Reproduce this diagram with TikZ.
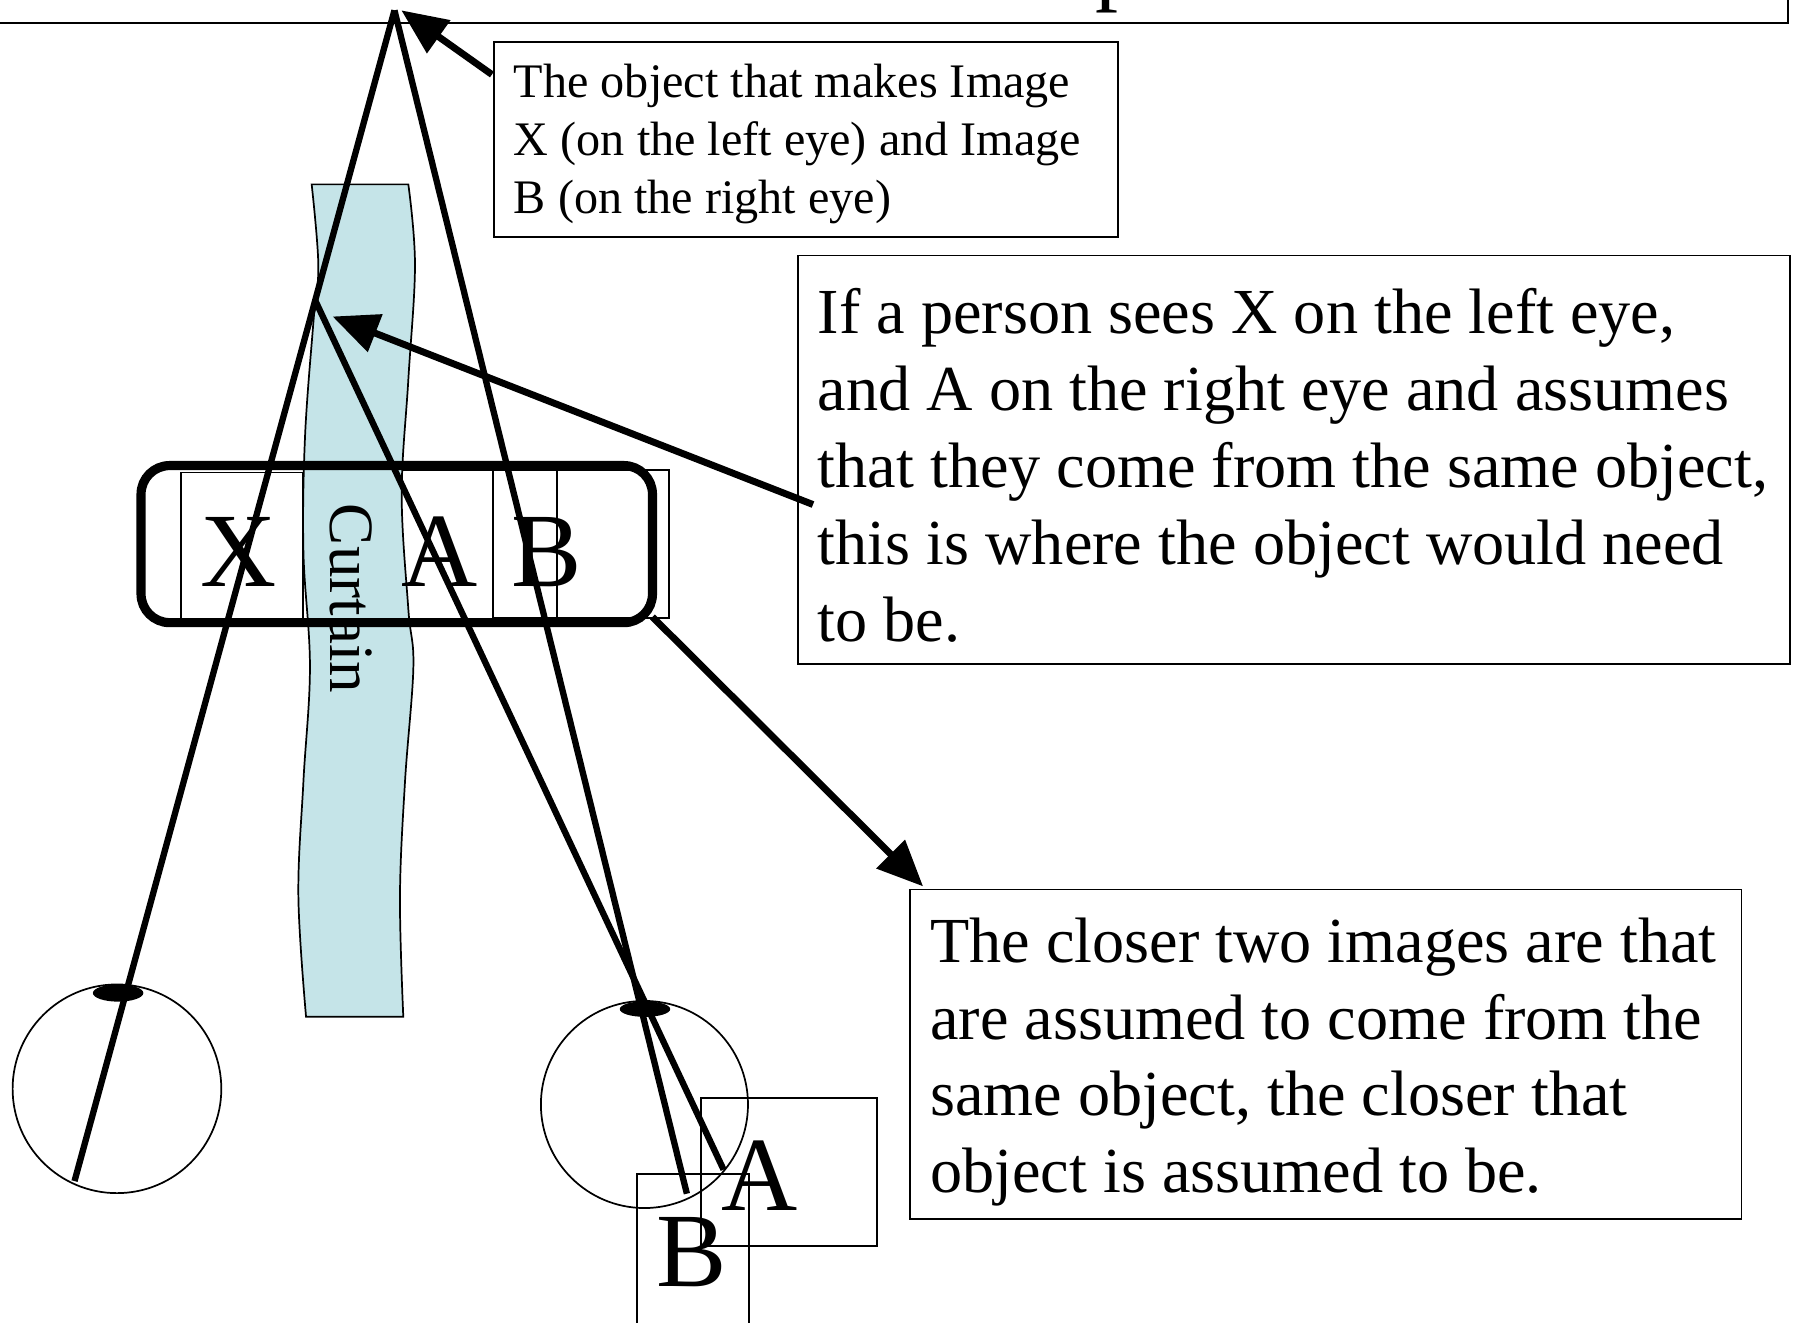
\documentclass[tikz,border=0pt]{standalone}
\usepackage{fontspec}
\setmainfont{Liberation Serif}
\usetikzlibrary{arrows.meta}
\definecolor{curtainblue}{RGB}{197,228,232}
\begin{document}
\begin{tikzpicture}[x=1pt,y=-1pt,
  thinbox/.style={draw, line width=1.5pt},
  ray/.style={line width=5.5pt},
  pointer/.style={line width=6pt, -{Triangle[length=40pt,width=34pt]}},
  notebox/.style={draw, line width=1.5pt, anchor=north west, inner sep=0pt},
  notetext/.style={anchor=west, align=left, inner sep=0pt},
  bigletter/.style={font=\fontsize{92}{110}\selectfont, inner sep=0pt, anchor=base},
  eye/.style={draw, line width=1.5pt},
]
\useasboundingbox (0,0) rectangle (1568,1153);

% title box fragment
\draw[line width=1.5pt] (-10,20) -- (1559,20) -- (1559,-10);
\node[font=\fontsize{80}{96}\selectfont, anchor=base west, inner sep=0pt] (titlep) at (955,-6) {p};

% thin letter boxes (under curtain)
\draw[thinbox] (158,412) rectangle (264,541);
\draw[thinbox] (300,410) rectangle (485.6,540);
\draw[thinbox] (430,410) rectangle (583.5,539);

% curtain
\draw[fill=curtainblue, line width=1.5pt]
  plot[smooth, tension=0.6] coordinates {(271.8,160.8) (277.6,230.9) (273.3,281) (266,381) (264.6,481.2) (270.3,581.4) (264.6,681.5) (260.2,781.6) (266.9,886.7)}
  -- plot[smooth, tension=0.6] coordinates {(351.7,886.7) (348.8,781.6) (353.2,681.5) (360.5,581.4) (356.1,531.3) (350.3,431.2) (356.1,331) (361.9,230.9) (356.1,160.8)}
  -- cycle;
\node[font=\fontsize{55}{66}\selectfont, rotate=-90, inner sep=0pt] (curtainlabel) at (306,522) {Curtain};

% letters
\node[bigletter] (letX) at (208,511.6) {X};
\node[bigletter] (letA) at (383.5,511.6) {A};
\node[bigletter] (letB) at (477,511.6) {B};

% rounded frame
\draw[line width=8pt, rounded corners=25pt] (123,406) rectangle (569,543);
\coordinate (framecorner) at (569,538);

% eyes
\draw[eye] (102,949.5) circle [radius=91pt];
\draw[eye] (562,963.2) circle [radius=90.3pt];
\fill (103,866) ellipse [x radius=22pt, y radius=7.5pt];
\fill (562.5,880) ellipse [x radius=22pt, y radius=6.8pt];

% bottom image boxes
\draw[thinbox] (611.3,957.3) rectangle (765,1086.6);
\draw[thinbox] (555.2,1023.8) rectangle (653.2,1170);
\node[bigletter] (imgA) at (662,1055.8) {A};
\node[bigletter] (imgB) at (603,1122) {B};

% rays
\coordinate (apex) at (344,9);
\coordinate (conv) at (274.9,262);
\coordinate (leftend) at (65,1030);
\coordinate (rightB) at (599,1041);
\coordinate (rightA) at (631,1020);
\draw[ray] (apex) -- (leftend);
\draw[ray] (apex) -- (rightB);
\draw[ray] (conv) -- (rightA);

% notes
\node[notebox, minimum width=544pt, minimum height=170pt] (note1) at (430,36) {};
\node[notetext, font=\fontsize{42}{50.5}\selectfont] (note1text) at ([xshift=18pt,yshift=-4pt]note1.west)
  {The object that makes Image\\X (on the left eye) and Image\\B (on the right eye)};
\node[notebox, minimum width=865pt, minimum height=356pt] (note2) at (695,222) {};
\node[notetext, font=\fontsize{56}{67}\selectfont] (note2text) at ([xshift=18pt,yshift=-5pt]note2.west)
  {If a person sees X on the left eye,\\and A on the right eye and assumes\\that they come from the same object,\\this is where the object would need\\to be.};
\node[notebox, minimum width=725pt, minimum height=287pt] (note3) at (793,775) {};
\node[notetext, font=\fontsize{56}{67}\selectfont] (note3text) at ([xshift=18pt,yshift=-7pt]note3.west)
  {The closer two images are that\\are assumed to come from the\\same object, the closer that\\object is assumed to be.};

% pointers
\coordinate (p1start) at (429,65);
\coordinate (p1tip) at (350,9);
\coordinate (p2start) at (709,440);
\coordinate (p2tip) at (290,276);
\coordinate (p3tip) at (805,773);
\draw[pointer] (p1start) -- (p1tip);
\draw[pointer] (p2start) -- (p2tip);
\draw[pointer] (framecorner) -- (p3tip);
\end{tikzpicture}
\end{document}
